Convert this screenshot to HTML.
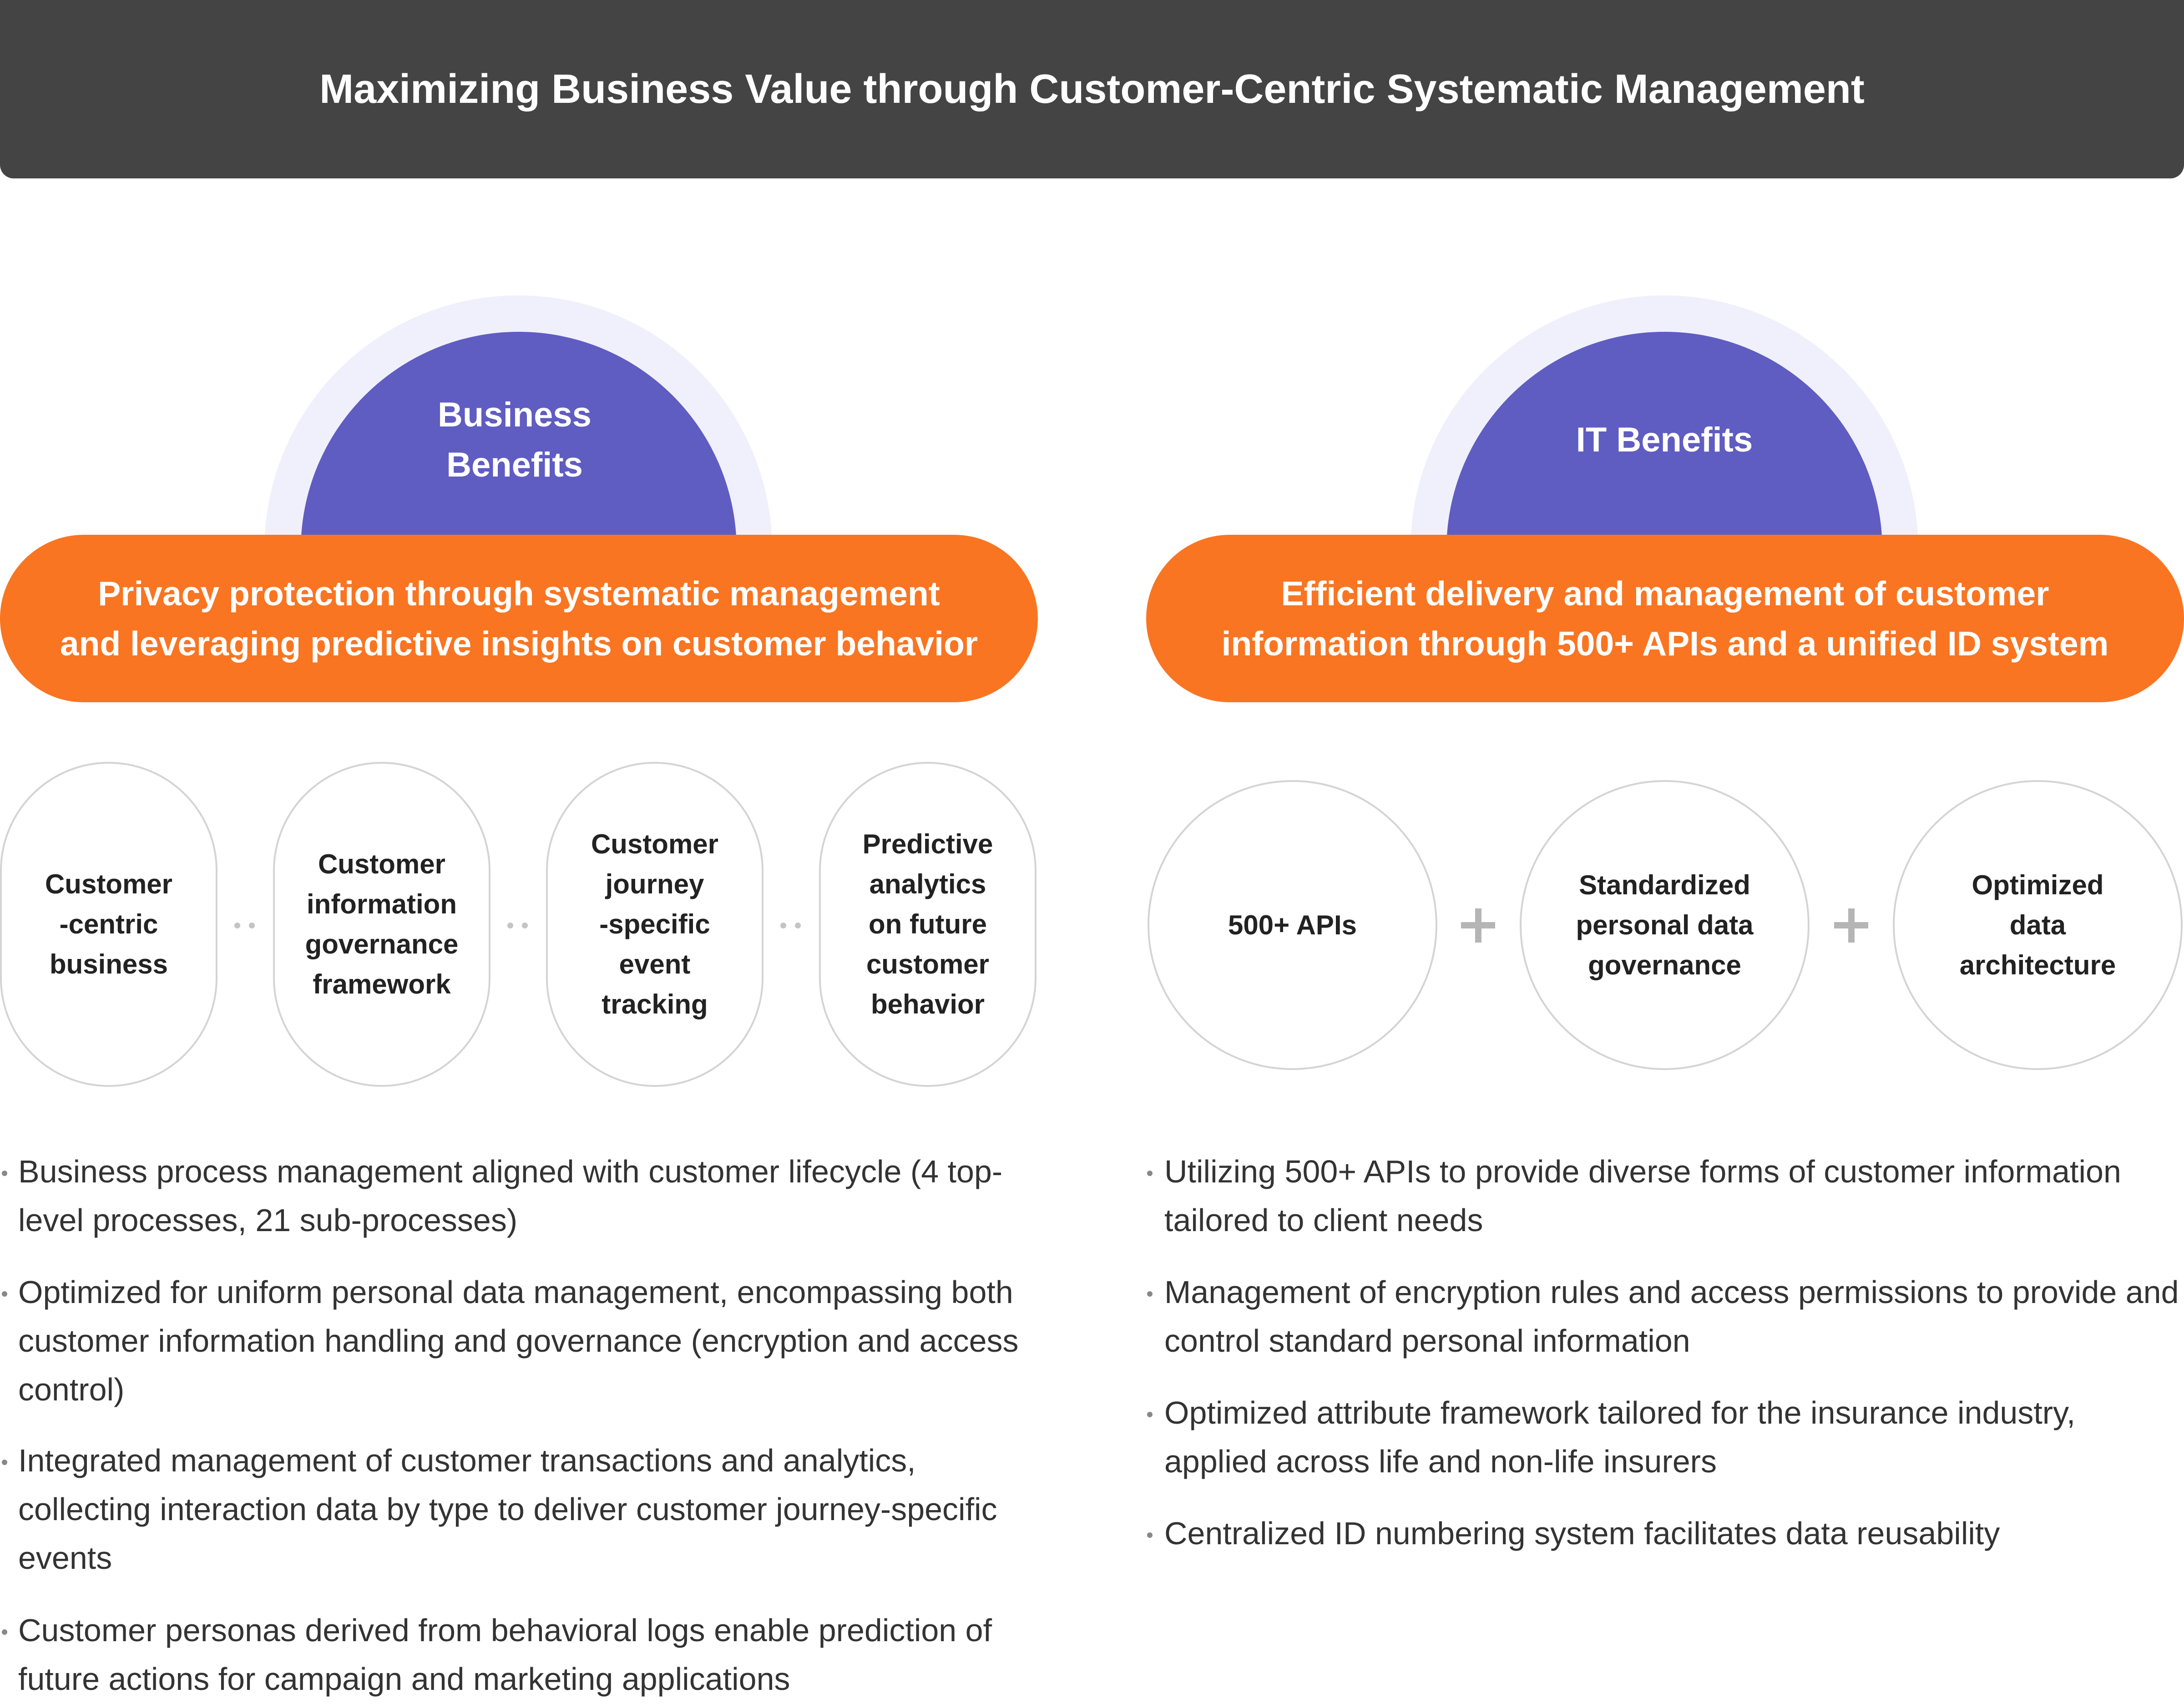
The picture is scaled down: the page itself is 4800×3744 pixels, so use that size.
<!DOCTYPE html>
<html><head><meta charset="utf-8"><style>
body{margin:0;width:4800px;height:3744px;background:#fff;position:relative;overflow:hidden;font-family:"Liberation Sans",sans-serif;color:#222}
.a{position:absolute}
.c{text-align:center;white-space:nowrap}
.hdr{left:0;top:0;width:4800px;height:392px;background:#444;border-radius:0 0 30px 30px;color:#fff;font-size:90px;line-height:392px;text-align:center;font-weight:bold}
.ring{border-radius:50%;background:#f0f0fc}
.pur{border-radius:50%;background:#5f5dc1}
.or{background:#f97522;border-radius:184px;color:#fff;font-size:75px;font-weight:bold;line-height:110px;display:flex;align-items:center;justify-content:center;text-align:center}
.pill{border:4px solid #d4d4d4;border-radius:240px;box-sizing:border-box;width:478px;height:714px;top:1674px;display:flex;align-items:center;justify-content:center;text-align:center;font-size:60px;font-weight:bold;line-height:88px;background:#fff}
.circ{border:4px solid #d4d4d4;border-radius:50%;box-sizing:border-box;width:637px;height:637px;top:1714px;display:flex;align-items:center;justify-content:center;text-align:center;font-size:60px;font-weight:bold;line-height:88px}
.dot{width:13px;height:13px;border-radius:50%;background:#c4c4c4;top:2027px}
.pl{background:#b5b5b5}
.bl{font-size:70px;line-height:107px;color:#333;white-space:nowrap}
.bd{width:12px;height:12px;border-radius:50%;background:#888}
</style></head><body>
<div class="a hdr">Maximizing Business Value through Customer-Centric Systematic Management</div>

<div class="a ring" style="left:581px;top:649px;width:1116px;height:1116px"></div>
<div class="a pur" style="left:661px;top:729px;width:958px;height:958px"></div>
<div class="a c" style="left:652px;top:857px;width:958px;color:#fff;font-size:76px;font-weight:bold;line-height:110px">Business<br>Benefits</div>

<div class="a ring" style="left:3100px;top:649px;width:1116px;height:1116px"></div>
<div class="a pur" style="left:3179px;top:729px;width:958px;height:958px"></div>
<div class="a c" style="left:3179px;top:912px;width:958px;color:#fff;font-size:76px;font-weight:bold;line-height:110px">IT Benefits</div>

<div class="a" style="left:0;top:1543px;width:4800px;height:300px;background:#fff"></div>

<div class="a or" style="left:0;top:1175px;width:2281px;height:368px">Privacy protection through systematic management<br>and leveraging predictive insights on customer behavior</div>
<div class="a or" style="left:2519px;top:1175px;width:2281px;height:368px">Efficient delivery and management of customer<br>information through 500+ APIs and a unified ID system</div>

<div class="a pill" style="left:0">Customer<br>-centric<br>business</div>
<div class="a pill" style="left:600px">Customer<br>information<br>governance<br>framework</div>
<div class="a pill" style="left:1200px">Customer<br>journey<br>-specific<br>event<br>tracking</div>
<div class="a pill" style="left:1800px">Predictive<br>analytics<br>on future<br>customer<br>behavior</div>
<div class="a dot" style="left:515px"></div><div class="a dot" style="left:547px"></div>
<div class="a dot" style="left:1115px"></div><div class="a dot" style="left:1147px"></div>
<div class="a dot" style="left:1715px"></div><div class="a dot" style="left:1747px"></div>

<div class="a circ" style="left:2522px">500+ APIs</div>
<div class="a circ" style="left:3340px">Standardized<br>personal data<br>governance</div>
<div class="a circ" style="left:4160px">Optimized<br>data<br>architecture</div>
<div class="a pl" style="left:3211px;top:2026px;width:75px;height:14px"></div>
<div class="a pl" style="left:3242px;top:1996px;width:14px;height:75px"></div>
<div class="a pl" style="left:4031px;top:2026px;width:75px;height:14px"></div>
<div class="a pl" style="left:4062px;top:1996px;width:14px;height:75px"></div>

<div class="a bd" style="left:4px;top:2572px"></div>
<div class="a bl" style="left:40px;top:2521px">Business process management aligned with customer lifecycle (4 top-<br>level processes, 21 sub-processes)</div>
<div class="a bd" style="left:4px;top:2837px"></div>
<div class="a bl" style="left:40px;top:2786px">Optimized for uniform personal data management, encompassing both<br>customer information handling and governance (encryption and access<br>control)</div>
<div class="a bd" style="left:4px;top:3207px"></div>
<div class="a bl" style="left:40px;top:3156px">Integrated management of customer transactions and analytics,<br>collecting interaction data by type to deliver customer journey-specific<br>events</div>
<div class="a bd" style="left:4px;top:3580px"></div>
<div class="a bl" style="left:40px;top:3529px">Customer personas derived from behavioral logs enable prediction of<br>future actions for campaign and marketing applications</div>

<div class="a bd" style="left:2521px;top:2572px"></div>
<div class="a bl" style="left:2559px;top:2521px">Utilizing 500+ APIs to provide diverse forms of customer information<br>tailored to client needs</div>
<div class="a bd" style="left:2521px;top:2837px"></div>
<div class="a bl" style="left:2559px;top:2786px">Management of encryption rules and access permissions to provide and<br>control standard personal information</div>
<div class="a bd" style="left:2521px;top:3102px"></div>
<div class="a bl" style="left:2559px;top:3051px">Optimized attribute framework tailored for the insurance industry,<br>applied across life and non-life insurers</div>
<div class="a bd" style="left:2521px;top:3367px"></div>
<div class="a bl" style="left:2559px;top:3316px">Centralized ID numbering system facilitates data reusability</div>
</body></html>
